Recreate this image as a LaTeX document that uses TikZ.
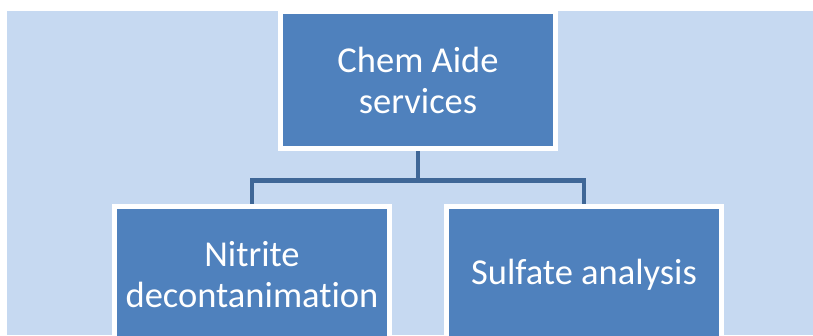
\documentclass[tikz,border=0pt]{standalone}
\usepackage{fontspec}
\setmainfont{Carlito}[Ligatures=NoCommon]
\usetikzlibrary{backgrounds}
\definecolor{paneblue}{HTML}{C6D9F1}
\definecolor{boxblue}{HTML}{4F81BD}
\definecolor{linkblue}{HTML}{3F6797}
\tikzset{
  box/.style={draw=white, line width=5pt, fill=boxblue, text=white, align=center,
    minimum width=275pt, minimum height=137pt, font=\fontsize{36.5}{41}\selectfont},
  link/.style={draw=linkblue, line width=4.5pt}
}

\begin{document}
\begin{tikzpicture}[x=1pt, y=1pt]
  \useasboundingbox (0,0) rectangle (813,335);
  \clip (0,0) rectangle (813,335);

  \node[box] (chem) at (418,255) {Chem Aide\\services};
  \node[box] (nitrite) at (252,60) {Nitrite\\decontanimation};
  \node[box] (sulfate) at (584,60) {Sulfate analysis};

  \begin{scope}[on background layer]
    \fill[paneblue] (7,0) rectangle (813,324);
    % \fill[red] (chem.south) circle (2pt);
    \draw[link] (chem.south) -- ++(0,-29.5) -| (nitrite.north);
    \draw[link] (chem.south) -- ++(0,-29.5) -| (sulfate.north);
  \end{scope}
\end{tikzpicture}
\end{document}
